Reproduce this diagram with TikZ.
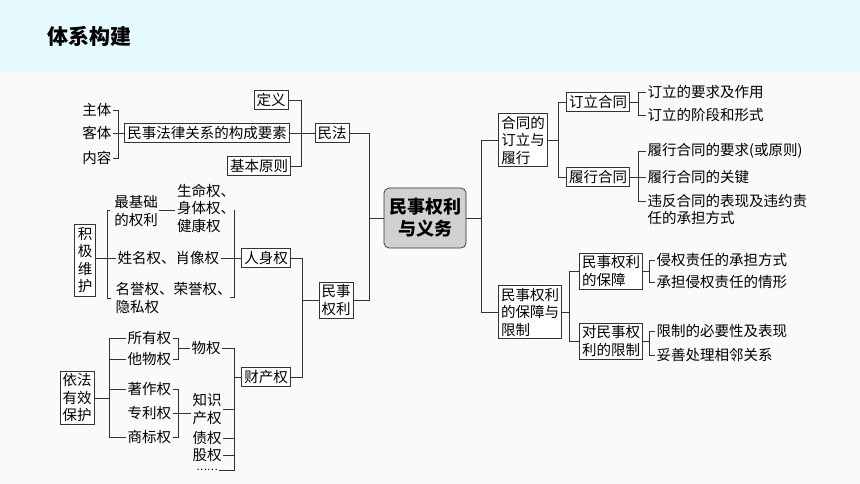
\documentclass[tikz,border=0pt]{standalone}
\usepackage{fontspec}
\setmainfont{Noto Sans CJK SC}
\begin{document}
\begin{tikzpicture}[x=1pt,y=-1pt,
  bx/.style={draw=black!80,line width=0.7pt,fill=white,inner sep=2.5pt,font=\fontsize{14.5}{17.5}\selectfont,align=center},
  tx/.style={inner sep=1.5pt,font=\fontsize{14.5}{17.5}\selectfont,align=left},
  ln/.style={draw=black!80,line width=0.7pt}]
\useasboundingbox (0,0) rectangle (860,484);
\fill[black!2] (0,0) rectangle (860,484);
\fill[blue!20!cyan!10!white] (0,0) rectangle (860,72);
\node[anchor=west,font=\fontsize{21}{24}\selectfont\bfseries] (title) at (44,36) {体系构建};
% center
\node[bx,rounded corners=5pt,fill=black!18,font=\fontsize{18}{22}\selectfont\bfseries,minimum width=82pt,minimum height=60pt] (c) at (425,218) {民事权利\\与义务};
% left top
\node[bx] (dy) at (271,100) {定义};
\node[bx] (ys) at (207,133) {民事法律关系的构成要素};
\node[bx] (jb) at (259,166) {基本原则};
\node[bx] (mf) at (332,133) {民法};
\node[tx,anchor=east] (zt) at (113,110) {主体};
\node[tx,anchor=east] (kt) at (113,133) {客体};
\node[tx,anchor=east] (nr) at (113,158) {内容};
\coordinate (b1) at (118,0);
\draw[ln] (zt.east) -- (zt.east -| b1) -- (nr.east -| b1) -- (nr.east);
\draw[ln] (kt.east) -- (ys.west);
\coordinate (b2) at (301,0);
\draw[ln] (dy.east) -- (dy.east -| b2) -- (jb.east -| b2) -- (jb.east);
\draw[ln] (ys.east) -- (mf.west);
% personal rights
\node[bx,inner sep=3pt] (jj) at (85,260) {积\\极\\维\\护};
\node[tx,align=center] (zjc) at (136,211) {最基础\\的权利};
\node[tx] (sm) at (206,208) {生命权、\\身体权、\\健康权};
\node[tx,anchor=west] (xm) at (116,258) {姓名权、肖像权};
\node[tx,anchor=west] (my) at (114,298) {名誉权、荣誉权、\\隐私权};
\node[bx] (rs) at (266,258) {人身权};
\coordinate (b3) at (107,0);
\draw[ln] (zjc.west |- 0,210) ++(-3,0) -- (b3 |- 0,210) -- (b3 |- 0,298) -- ++(4,0);
\draw[ln] (jj.east |- xm.west) -- (xm.west);
\draw[ln] (zjc.east |- 0,210) -- (sm.west |- 0,210);
\coordinate (b4) at (234,0);
\draw[ln] (sm.east |- 0,210) ++(-3,0) -- (b4 |- 0,210) -- (b4 |- 0,297) -- ++(-4,0);
\draw[ln] (xm.east) -- (rs.west);
% property
\node[bx] (mq) at (336,300) {民事\\权利};
\node[bx] (cc) at (266,377) {财产权};
\node[bx] (yf) at (77,398) {依法\\有效\\保护};
\node[tx,anchor=west] (sy) at (126,338) {所有权};
\node[tx,anchor=west] (tw) at (126,359) {他物权};
\node[tx,anchor=west] (zz) at (126,389) {著作权};
\node[tx,anchor=west] (zl) at (126,413) {专利权};
\node[tx,anchor=west] (sb) at (126,437) {商标权};
\node[tx] (wq) at (206,348) {物权};
\node[tx,align=left] (zs) at (207,409) {知识\\产权};
\node[tx] (zq) at (207,438) {债权};
\node[tx] (gq) at (207,455) {股权};
\node[tx,font=\fontsize{10}{12}\selectfont] (dd) at (207,470) {……};
\coordinate (b5) at (109,0);
\draw[ln] (sy.west) -- (sy.west -| b5) -- (sb.west -| b5) -- (sb.west);
\draw[ln] (tw.west) -- (tw.west -| b5);
\draw[ln] (zz.west) -- (zz.west -| b5);
\draw[ln] (yf.east) -- (yf.east -| b5);
\coordinate (b6) at (178,0);
\draw[ln] (sy.east) -- (sy.east -| b6) -- (tw.east -| b6) -- (tw.east);
\draw[ln] (wq.west) -- (wq.west -| b6);
\draw[ln] (zz.east) -- (zz.east -| b6) -- (sb.east -| b6) -- (sb.east);
\draw[ln] (zl.east) -- (zs.west |- zl.east);
\coordinate (b7) at (234,0);
\draw[ln] (wq.east) -- (wq.east -| b7) -- (dd.east -| b7) -- (dd.east);
\draw[ln] (zs.east) -- (zs.east -| b7);
\draw[ln] (zq.east) -- (zq.east -| b7);
\draw[ln] (gq.east) -- (gq.east -| b7);
\draw[ln] (cc.west) -- (cc.west -| b7);
\coordinate (b8) at (302,0);
\draw[ln] (rs.east) -- (rs.east -| b8) -- (cc.east -| b8) -- (cc.east);
\draw[ln] (mq.west) -- (mq.west -| b8);
\coordinate (b9) at (369,0);
\draw[ln] (mf.east) -- (mf.east -| b9) -- (mq.east -| b9) -- (mq.east);
\draw[ln] (c.west) -- (c.west -| b9);
% right side
\node[bx,align=left] (ht) at (523,140) {合同的\\订立与\\履行};
\node[bx] (dl) at (598,102) {订立合同};
\node[bx] (lx) at (598,177) {履行合同};
\node[bx,align=left] (bz) at (530,312) {民事权利\\的保障与\\限制};
\node[bx,align=left] (bzz) at (611,271) {民事权利\\的保障};
\node[bx,align=left] (xz) at (611,341) {对民事权\\利的限制};
\coordinate (r1) at (481,0);
\draw[ln] (ht.west) -- (ht.west -| r1) -- (bz.west -| r1) -- (bz.west);
\draw[ln] (c.east) -- (c.east -| r1);
\coordinate (r2) at (558,0);
\draw[ln] (dl.west) -- (dl.west -| r2) -- (lx.west -| r2) -- (lx.west);
\draw[ln] (ht.east) -- (ht.east -| r2);
\coordinate (r3) at (569,0);
\draw[ln] (bzz.west) -- (bzz.west -| r3) -- (xz.west -| r3) -- (xz.west);
\draw[ln] (bz.east) -- (bz.east -| r3);
\node[tx,anchor=west] (a1) at (646,92) {订立的要求及作用};
\node[tx,anchor=west] (a2) at (646,115) {订立的阶段和形式};
\node[tx,anchor=west] (a3) at (646,151) {履行合同的要求(或原则)};
\node[tx,anchor=west] (a4) at (646,177) {履行合同的关键};
\node[tx,anchor=west] (a5) at (646,201) {违反合同的表现及违约责};
\node[tx,anchor=west] (a5b) at (646,218) {任的承担方式};
\node[tx,anchor=west] (a6) at (655,260) {侵权责任的承担方式};
\node[tx,anchor=west] (a7) at (655,282) {承担侵权责任的情形};
\node[tx,anchor=west] (a8) at (655,331) {限制的必要性及表现};
\node[tx,anchor=west] (a9) at (655,355) {妥善处理相邻关系};
\coordinate (r4) at (638,0);
\draw[ln] (a1.west) -- (a1.west -| r4) -- (a2.west -| r4) -- (a2.west);
\draw[ln] (dl.east) -- (dl.east -| r4);
\draw[ln] (a3.west) -- (a3.west -| r4) -- (a5.west -| r4) -- (a5.west);
\draw[ln] (lx.east) -- (a4.west);
\coordinate (r5) at (649,0);
\draw[ln] (a6.west) -- (a6.west -| r5) -- (a7.west -| r5) -- (a7.west);
\draw[ln] (bzz.east) -- (bzz.east -| r5);
\draw[ln] (a8.west) -- (a8.west -| r5) -- (a9.west -| r5) -- (a9.west);
\draw[ln] (xz.east) -- (xz.east -| r5);
\end{tikzpicture}
\end{document}
